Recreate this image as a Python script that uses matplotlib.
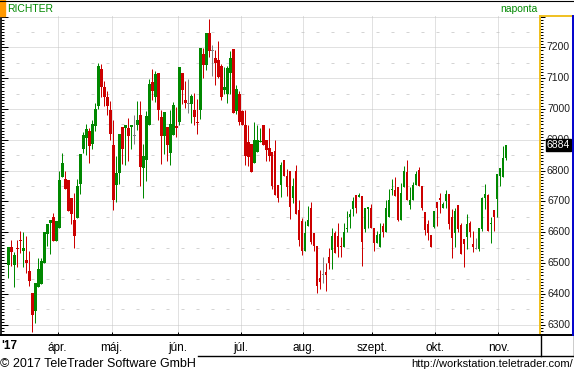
import numpy as np
import matplotlib.pyplot as plt
from matplotlib.lines import Line2D
from matplotlib.patches import Rectangle
from matplotlib.ticker import MultipleLocator

# Napi árfolyamok (OHLC), 2017 márc. - nov.
opens = [6495, 6552, 6495, 6548, 6575, 6539, 6510, 6474, 6402, 6345,
         6421, 6431, 6501, 6594, 6631, 6650, 6573, 6615, 6780, 6772,
         6769, 6711, 6640, 6647, 6758, 6870, 6905, 6930, 6885, 6945,
         7010, 7130, 7070, 7040, 6996, 6883, 6754, 6791, 6941, 6939,
         6938, 6941, 6912, 6948, 6980, 6809, 6835, 6949, 7087, 7040,
         7117, 6974, 6912, 6941, 6857, 6915, 6945, 6959, 7117, 7029,
         7016, 7016, 6996, 6959, 6996, 7178, 7144, 7246, 7188, 7165,
         7159, 7140, 7061, 7048, 7117, 7194, 6994, 7048, 6993, 6948,
         6892, 6888, 6826, 6861, 6893, 6948, 6899, 6872, 6861, 6865,
         6753, 6753, 6834, 6782, 6798, 6712, 6798, 6672, 6637, 6539,
         6620, 6678, 6599, 6554, 6451, 6461, 6472, 6520, 6543, 6597,
         6588, 6555, 6553, 6611, 6651, 6676, 6721, 6716, 6718, 6611,
         6677, 6680, 6613, 6564, 6553, 6620, 6602, 6651, 6738, 6737,
         6748, 6640, 6748, 6796, 6689, 6705, 6754, 6802, 6750, 6666,
         6627, 6591, 6618, 6698, 6710, 6680, 6700, 6724, 6649, 6599,
         6689, 6624, 6578, 6586, 6629, 6562, 6546, 6546, 6611, 6712,
         6721, 6628, 6672, 6708, 6784, 6781, 6840]
highs = [6552, 6575, 6537, 6575, 6604, 6602, 6588, 6539, 6402, 6434,
         6516, 6516, 6600, 6627, 6640, 6664, 6637, 6799, 6856, 6799,
         6769, 6711, 6729, 6773, 6854, 6925, 6950, 6940, 6965, 7020,
         7150, 7145, 7090, 7060, 7025, 6964, 6847, 6919, 6941, 6948,
         6971, 6948, 6980, 7025, 7025, 6886, 6993, 7097, 7130, 7123,
         7117, 6996, 6990, 6941, 6996, 7022, 7006, 7136, 7117, 7091,
         7097, 7048, 7052, 7032, 7199, 7197, 7246, 7292, 7207, 7191,
         7222, 7146, 7135, 7140, 7188, 7194, 7078, 7059, 6996, 6996,
         6948, 6888, 6958, 6948, 6938, 6948, 6899, 6938, 6861, 6899,
         6753, 6829, 6834, 6807, 6798, 6776, 6818, 6704, 6645, 6637,
         6685, 6697, 6599, 6554, 6477, 6521, 6501, 6548, 6615, 6604,
         6629, 6586, 6629, 6670, 6674, 6716, 6721, 6729, 6718, 6678,
         6681, 6691, 6613, 6604, 6629, 6629, 6705, 6740, 6773, 6778,
         6748, 6761, 6815, 6835, 6748, 6764, 6798, 6811, 6750, 6666,
         6640, 6591, 6669, 6698, 6729, 6699, 6737, 6724, 6675, 6678,
         6689, 6631, 6578, 6659, 6638, 6604, 6583, 6614, 6713, 6757,
         6723, 6649, 6672, 6789, 6808, 6880, 6884]
lows = [6453, 6492, 6423, 6488, 6532, 6486, 6467, 6426, 6277, 6307,
        6421, 6431, 6501, 6557, 6528, 6573, 6573, 6615, 6780, 6741,
        6669, 6626, 6550, 6647, 6723, 6858, 6850, 6826, 6870, 6930,
        7000, 7040, 7010, 6980, 6899, 6673, 6699, 6756, 6821, 6818,
        6832, 6871, 6885, 6933, 6751, 6712, 6767, 6949, 7030, 7024,
        6964, 6821, 6854, 6832, 6819, 6915, 6910, 6949, 7016, 7002,
        6987, 6954, 6948, 6919, 6967, 7101, 7126, 7170, 7107, 7078,
        7100, 7029, 7048, 7020, 7048, 6987, 6984, 6948, 6948, 6819,
        6816, 6796, 6826, 6861, 6893, 6883, 6832, 6832, 6740, 6721,
        6699, 6713, 6782, 6718, 6643, 6696, 6659, 6556, 6526, 6539,
        6620, 6562, 6539, 6404, 6415, 6434, 6410, 6481, 6481, 6534,
        6519, 6519, 6553, 6602, 6615, 6653, 6662, 6716, 6492, 6602,
        6613, 6615, 6540, 6564, 6553, 6586, 6602, 6651, 6721, 6719,
        6637, 6640, 6748, 6705, 6676, 6705, 6754, 6751, 6672, 6591,
        6575, 6553, 6615, 6622, 6664, 6680, 6679, 6611, 6518, 6553,
        6600, 6529, 6486, 6545, 6584, 6537, 6546, 6540, 6605, 6675,
        6605, 6566, 6605, 6651, 6751, 6781, 6835]
closes = [6552, 6537, 6526, 6545, 6572, 6549, 6501, 6443, 6333, 6434,
          6481, 6507, 6600, 6627, 6640, 6573, 6637, 6770, 6824, 6741,
          6669, 6660, 6589, 6750, 6854, 6915, 6935, 6880, 6950, 7000,
          7140, 7070, 7040, 7010, 6919, 6706, 6794, 6919, 6870, 6948,
          6913, 6948, 6912, 6964, 6813, 6847, 6977, 7081, 7059, 7113,
          6996, 6913, 6990, 6884, 6951, 7014, 6940, 7136, 7062, 7019,
          7016, 7042, 6974, 6955, 7199, 7144, 7246, 7189, 7188, 7149,
          7105, 7040, 7072, 7133, 7166, 6987, 7065, 6959, 6948, 6848,
          6845, 6796, 6899, 6899, 6895, 6883, 6868, 6848, 6750, 6721,
          6712, 6818, 6782, 6748, 6683, 6750, 6659, 6575, 6539, 6599,
          6639, 6570, 6554, 6425, 6440, 6461, 6461, 6501, 6588, 6534,
          6551, 6552, 6601, 6613, 6659, 6701, 6678, 6721, 6570, 6678,
          6681, 6615, 6566, 6591, 6593, 6602, 6679, 6705, 6740, 6719,
          6640, 6726, 6799, 6705, 6705, 6754, 6788, 6751, 6678, 6607,
          6597, 6553, 6669, 6679, 6706, 6692, 6724, 6627, 6583, 6669,
          6610, 6529, 6562, 6627, 6602, 6551, 6546, 6614, 6710, 6724,
          6605, 6630, 6651, 6789, 6808, 6840, 6884]

# Hónapok első kereskedési napjának indexe
month_labels = ["ápr.", "máj.", "jún.", "júl.", "aug.", "szept.", "okt.", "nov."]
month_starts = [17, 35, 57, 78, 99, 122, 143, 164]
price_ticks = list(range(6300, 7201, 100))
grid_levels = list(range(6300, 7301, 100))
half_levels = list(range(6350, 7301, 100))
last_price = closes[-1]

plt.rcParams['font.family'] = ['Liberation Sans', 'DejaVu Sans']
plt.rcParams['lines.scale_dashes'] = False

W, H = 574, 372
PX = 0.72  # 1 pixel pontban

def fx(x):
    return x / W

def fy(y):
    return 1 - y / H

GREEN = '#008800'
RED = '#cc0000'
GRAY = '#808080'

fig = plt.figure(figsize=(W / 100, H / 100), dpi=100)
ax = fig.add_axes([fx(1), fy(335), 539 / W, 319 / H])
ax.set_xlim(-2.4, 177.3)
ax.set_ylim(6266.7, 7301.9)

# rács
for lv in grid_levels:
    ax.axhline(lv, color='#c4c4c4', lw=PX, ls=(0, (PX, PX)), zorder=0)
for lv in half_levels:
    ax.axhline(lv, color='#d4d4d4', lw=PX, ls=(0, (3 * PX, 12 * PX)), zorder=0)
for m in month_starts:
    ax.axvline(m - 0.55, color='#c4c4c4', lw=PX, ls=(0, (PX, PX)), zorder=0)

# gyertyák
x = np.arange(len(opens))
o = np.array(opens)
c = np.array(closes)
cols = [GREEN if cc > oo else (RED if cc < oo else GRAY) for oo, cc in zip(o, c)]
ax.vlines(x, lows, highs, colors=cols, lw=PX, zorder=2)
body = np.maximum(np.abs(c - o), 3.3)
ax.bar(x, body, bottom=np.minimum(o, c), width=0.9, color=cols, linewidth=0, zorder=3)

# tengelyek
for s in ['top', 'bottom']:
    ax.spines[s].set_visible(False)
ax.spines['left'].set_color('black')
ax.spines['left'].set_linewidth(1.2)
ax.spines['right'].set_color('#f0c020')
ax.spines['right'].set_linewidth(1.4)

ax.yaxis.set_major_locator(MultipleLocator(100))
ax.yaxis.set_minor_locator(MultipleLocator(10))
ax.tick_params(axis='y', which='major', direction='in', length=5, width=PX,
               left=True, right=False, labelleft=False)
ax.tick_params(axis='y', which='minor', direction='in', length=2.5, width=PX,
               left=True, right=False)

ax2 = ax.twinx()
ax2.set_ylim(ax.get_ylim())
for s in ['top', 'bottom', 'left']:
    ax2.spines[s].set_visible(False)
ax2.spines['right'].set_color('#f0c020')
ax2.spines['right'].set_linewidth(1.4)
ax2.yaxis.set_major_locator(MultipleLocator(100))
ax2.yaxis.set_minor_locator(MultipleLocator(10))
ax2.tick_params(axis='y', which='major', direction='out', length=3.5, width=PX,
                color='black', labelright=False)
ax2.tick_params(axis='y', which='minor', direction='out', length=2, width=PX,
                color='black')

lab_x = 1 + 30 / 539
for p in price_ticks:
    ax.text(lab_x, p, str(p), transform=ax.get_yaxis_transform(), ha='right',
            va='center', fontsize=7.5, color='#202020', clip_on=False)
ax.text(lab_x, last_price, str(last_price), transform=ax.get_yaxis_transform(),
        ha='right', va='center', fontsize=7.5, color='white', clip_on=False,
        zorder=5, bbox=dict(boxstyle='square,pad=0.12', fc='black', ec='black'))

ax.set_xticks([m - 0.55 for m in month_starts])
ax.set_xticklabels(month_labels, fontsize=8.5)
ax.tick_params(axis='x', direction='in', length=2, width=PX, pad=5)

# keret és feliratok
lines = [
    ((0, W), (335, 335), 'black', 1.4),
    ((198, W), (356, 356), 'black', 1.0),
    ((541, 541), (335, 356), 'black', 1.0),
    ((573.5, 573.5), (335, 356), 'black', 1.0),
    ((540, 572), (16, 16), '#f0c020', 1.4),
    ((572.5, 572.5), (16, 335), '#0000cc', 1.4),
    ((0, W), (0.5, 0.5), 'black', 0.8),
]
for xs, ys, col, lw in lines:
    fig.add_artist(Line2D([fx(v) for v in xs], [fy(v) for v in ys],
                          color=col, lw=lw, transform=fig.transFigure))
fig.add_artist(Rectangle((0, fy(16)), fx(5), 16 / H, color='#ff9900',
                         transform=fig.transFigure))

fig.text(fx(7), fy(8.5), "RICHTER", color=GREEN, fontsize=7.5, va='center')
fig.text(fx(538), fy(8.5), "naponta", color=GREEN, fontsize=7.5, va='center', ha='right')
fig.text(fx(1), fy(346), "'17", fontsize=8.5, fontweight='bold', va='center')
fig.text(fx(0), fy(364), "© 2017 TeleTrader Software GmbH", fontsize=9, va='center')
fig.text(fx(573), fy(364), "http://workstation.teletrader.com/", fontsize=8,
         va='center', ha='right')

fig.savefig('out.png', dpi=100)
